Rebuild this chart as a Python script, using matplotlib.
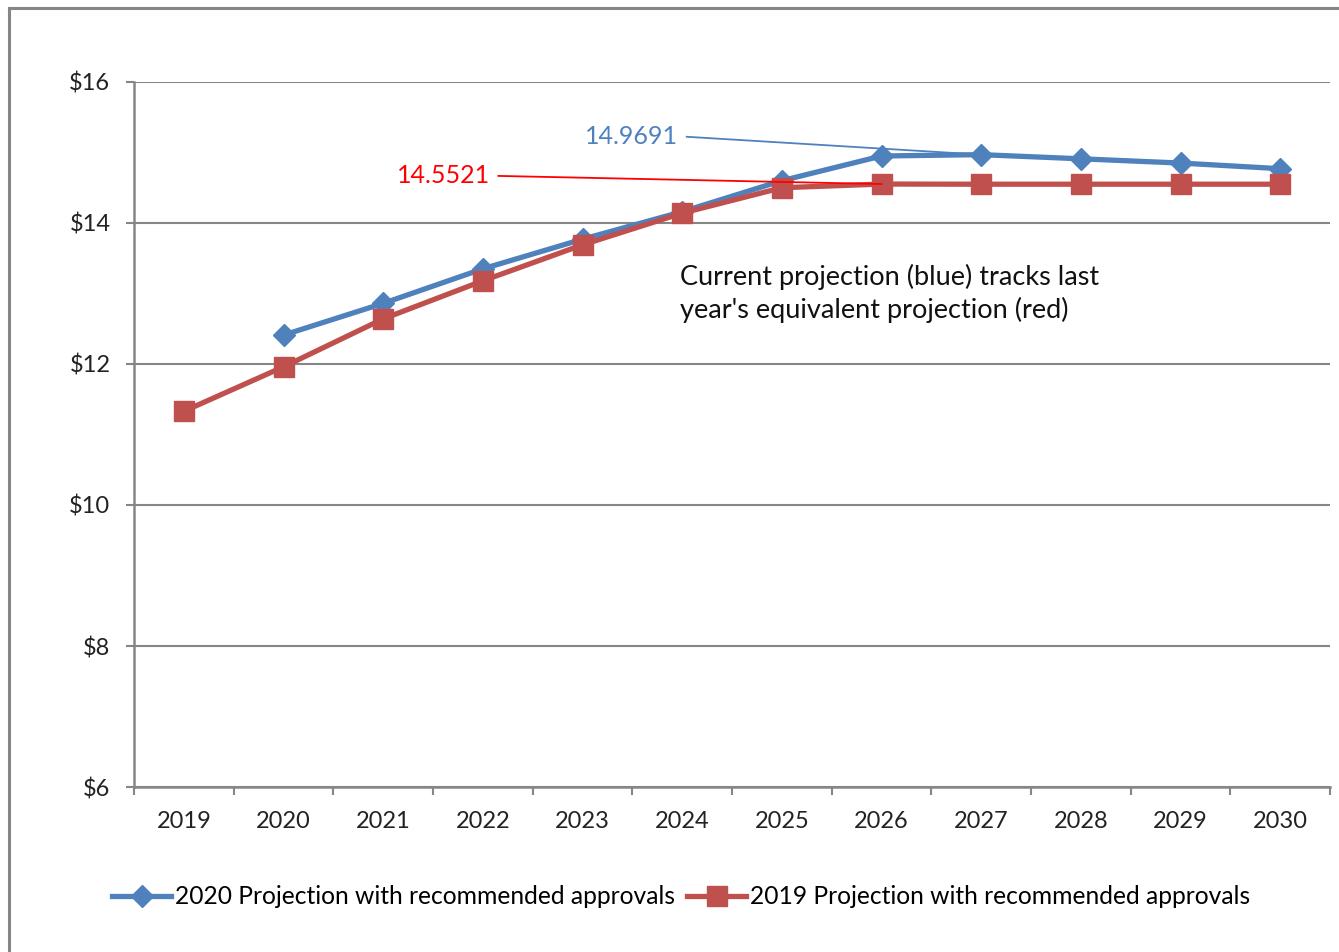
import matplotlib
matplotlib.use('Agg')
import matplotlib.pyplot as plt
import numpy as np

plt.rcParams['font.family'] = ['Lato', 'DejaVu Sans']

# data
years = [2019, 2020, 2021, 2022, 2023, 2024, 2025, 2026, 2027, 2028, 2029, 2030]
proj_2020 = [np.nan, 12.41, 12.86, 13.35, 13.77, 14.16, 14.60, 14.95, 14.9691, 14.91, 14.85, 14.77]
proj_2019 = [11.33, 11.96, 12.64, 13.18, 13.69, 14.14, 14.50, 14.5521, 14.55, 14.55, 14.55, 14.55]
y_ticks = [6, 8, 10, 12, 14, 16]
y_labels = ['$6', '$8', '$10', '$12', '$14', '$16']

blue = '#4F81BD'
red = '#C0504D'
grey = '#868686'

fig = plt.figure(figsize=(13.39, 9.52), dpi=100)
ax = fig.add_axes([0.1001, 0.1733, 0.8932, 0.7406])

ax.plot(years, proj_2020, color=blue, lw=3.8, marker='D', ms=11,
        label='2020 Projection with recommended approvals', zorder=3)
ax.plot(years, proj_2019, color=red, lw=3.8, marker='s', ms=14,
        label='2019 Projection with recommended approvals', zorder=3)

ax.set_xlim(2018.5, 2030.5)
ax.set_ylim(6, 16)
ax.set_yticks(y_ticks)
ax.set_yticklabels(y_labels)
ax.set_xticks(years)
ax.set_xticklabels([str(y) for y in years])
ax.set_xticks(np.arange(2018.5, 2031, 1), minor=True)

ax.grid(axis='y', color=grey, lw=1.5)
ax.set_axisbelow(True)
for s in ['top', 'right']:
    ax.spines[s].set_visible(False)
for s in ['left', 'bottom']:
    ax.spines[s].set_color(grey)
    ax.spines[s].set_linewidth(1.8)

ax.tick_params(axis='y', length=6, width=1.5, color=grey, pad=11, labelsize=17, labelcolor='#222222')
ax.tick_params(axis='x', which='major', length=0, pad=17, labelsize=17, labelcolor='#222222')
ax.tick_params(axis='x', which='minor', length=6, width=1.5, color=grey)

# value callouts
ax.annotate('14.9691', xy=(2027, proj_2020[8]), xytext=(2023.96, 15.23),
            ha='right', va='center', color=blue, fontsize=18,
            arrowprops=dict(arrowstyle='-', color=blue, lw=1.3, shrinkA=4, shrinkB=0,
                            relpos=(1, 0.5)))
ax.annotate('14.5521', xy=(2026, proj_2019[7]), xytext=(2022.07, 14.67),
            ha='right', va='center', color='#FF0000', fontsize=18,
            arrowprops=dict(arrowstyle='-', color='#FF0000', lw=1.3, shrinkA=4, shrinkB=0,
                            relpos=(1, 0.5)))

ax.text(2023.98, 13.0, "Current projection (blue) tracks last\nyear's equivalent projection (red)",
        ha='left', va='center', fontsize=19.5, color='#111111', linespacing=1.3)

fig.legend(loc='center', bbox_to_anchor=(681 / 1339, 0.058), ncol=2, frameon=False,
           fontsize=17.7, handlelength=2.4, handletextpad=0.15, columnspacing=0.5)

# outer chart frame
fig.add_artist(plt.Line2D([9 / 1339, 9 / 1339], [0, 1 - 8 / 952], color=grey, lw=2.2))
fig.add_artist(plt.Line2D([9 / 1339, 1], [1 - 8 / 952, 1 - 8 / 952], color=grey, lw=2.2))

fig.savefig('out.png', dpi=100)
